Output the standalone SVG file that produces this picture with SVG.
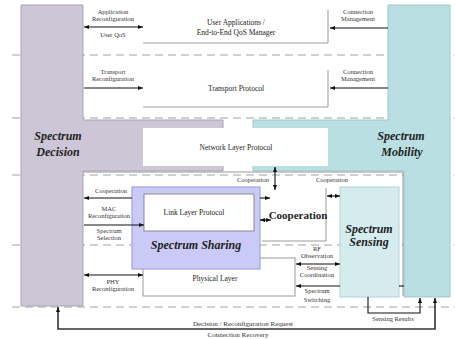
<svg xmlns="http://www.w3.org/2000/svg" width="455" height="339" viewBox="0 0 455 339">
<style>
.lbl{font-family:"Liberation Serif",serif;font-size:6.5px;fill:#333;text-anchor:middle}
.box{font-family:"Liberation Serif",serif;font-size:7.5px;fill:#222;text-anchor:middle}
.ttl{font-family:"Liberation Serif",serif;font-size:12px;font-weight:bold;font-style:italic;fill:#222;text-anchor:middle}
.coop{font-family:"Liberation Serif",serif;font-size:11px;font-weight:bold;fill:#222;text-anchor:middle}
.dash{stroke:#a0a0a0;stroke-width:1;stroke-dasharray:8 5;fill:none}
.edge{stroke:#999;stroke-width:1;fill:none}
.arr{stroke:#111;stroke-width:1.1;fill:none}
.arr2{stroke:#333;stroke-width:1.6;fill:none}
</style>
<defs>
<marker id="ah" viewBox="0 0 10 10" refX="10" refY="5" markerWidth="5" markerHeight="5" orient="auto-start-reverse" markerUnits="userSpaceOnUse">
<path d="M0 1 L10 5 L0 9 Z" fill="#111"/>
</marker>
</defs>
<rect x="0" y="0" width="455" height="339" fill="#fff"/>
<g id="layers">
<path class="dash" d="M12 55 H455 M12 118 H455 M12 175 H455 M12 245 H455 M12 307 H455"/>
</g>
<g id="spectrum-decision">
<path d="M21 5 H83 V120 H223 V171 H83 V306 H21 Z" fill="#ccc6d6" stroke="#aaa3b8" stroke-width="1"/>
<text class="ttl" x="58" y="140">Spectrum</text>
<text class="ttl" x="58" y="156">Decision</text>
</g>
<g id="spectrum-mobility">
<path d="M388 5 H450 V297 H404 V171 H253 V120 H388 Z" fill="#badfe2" stroke="#9fc7cb" stroke-width="1"/>
<text class="ttl" x="401" y="140">Spectrum</text>
<text class="ttl" x="402" y="156">Mobility</text>
</g>
<g id="lower-region">
<path class="edge" d="M83 172 H403 V296"/>
</g>
<g id="user-applications">
<rect x="143" y="10" width="185" height="33" fill="#fff"/>
<path class="edge" d="M328 10 V43 H143"/>
<text class="box" x="236" y="25">User Applications /</text>
<text class="box" x="236" y="35">End-to-End QoS Manager</text>
</g>
<g id="transport-protocol">
<rect x="143" y="70" width="185" height="37" fill="#fff"/>
<path class="edge" d="M328 70 V107 H143"/>
<text class="box" x="236" y="91">Transport Protocol</text>
</g>
<g id="network-layer">
<rect x="143" y="128" width="185" height="38" fill="#fff"/>
<text class="box" x="236" y="150">Network Layer Protocol</text>
</g>
<g id="physical-layer">
<rect x="143" y="258" width="152" height="38" fill="#fff" stroke="#999" stroke-width="1"/>
<text class="box" x="215" y="281">Physical Layer</text>
</g>
<g id="spectrum-sharing">
<rect x="132" y="187" width="128" height="82" fill="#cacaf7" stroke="#a3a3e3" stroke-width="1.2"/>
<text class="ttl" x="196" y="249">Spectrum Sharing</text>
</g>
<g id="link-layer">
<rect x="144" y="194" width="110" height="37" fill="#fff" stroke="#888" stroke-width="1"/>
<text class="box" x="194" y="215">Link Layer Protocol</text>
</g>
<g id="cooperation">
<path class="edge" d="M326 188 V241 H262"/>
<text class="coop" x="298" y="219">Cooperation</text>
</g>
<g id="spectrum-sensing">
<rect x="340" y="187" width="59" height="110" fill="#d5ecef" stroke="#b2d3d7" stroke-width="1"/>
<text class="ttl" x="369" y="233">Spectrum</text>
<text class="ttl" x="369" y="246">Sensing</text>
</g>
<g id="connectors">
<path class="arr" d="M84 27 H143" marker-start="url(#ah)" marker-end="url(#ah)"/>
<text class="lbl" x="113" y="14">Application</text>
<text class="lbl" x="113" y="21">Reconfiguration</text>
<text class="lbl" x="113" y="37">User QoS</text>
<path class="arr" d="M84 88 H143" marker-end="url(#ah)"/>
<text class="lbl" x="113" y="74">Transport</text>
<text class="lbl" x="113" y="81">Reconfiguration</text>
<path class="arr" d="M388 28 H330" marker-end="url(#ah)"/>
<text class="lbl" x="358" y="14">Connection</text>
<text class="lbl" x="358" y="21">Management</text>
<path class="arr" d="M388 88 H330" marker-end="url(#ah)"/>
<text class="lbl" x="358" y="74">Connection</text>
<text class="lbl" x="358" y="81">Management</text>
<path class="arr" d="M132 198 H84" marker-end="url(#ah)"/>
<text class="lbl" x="111" y="193">Cooperation</text>
<path class="arr" d="M84 225 H144" marker-end="url(#ah)"/>
<text class="lbl" x="109" y="211">MAC</text>
<text class="lbl" x="109" y="218">Reconfiguration</text>
<text class="lbl" x="109" y="233">Spectrum</text>
<text class="lbl" x="109" y="240">Selection</text>
<path class="arr" d="M84 275 H143" marker-start="url(#ah)" marker-end="url(#ah)"/>
<text class="lbl" x="113" y="284">PHY</text>
<text class="lbl" x="113" y="291">Reconfiguration</text>
<path class="arr" d="M275 167 V190" marker-start="url(#ah)" marker-end="url(#ah)"/>
<text class="lbl" x="253" y="182">Cooperation</text>
<path class="arr" d="M260 198 H270" marker-end="url(#ah)"/>
<path class="arr" d="M260 220 H271" marker-start="url(#ah)" marker-end="url(#ah)"/>
<path class="arr" d="M327 196 H340" marker-start="url(#ah)" marker-end="url(#ah)"/>
<text class="lbl" x="332" y="182">Cooperation</text>
<path class="arr" d="M296 264 H340" marker-start="url(#ah)" marker-end="url(#ah)"/>
<text class="lbl" x="317" y="251">RF</text>
<text class="lbl" x="317" y="258">Observation</text>
<text class="lbl" x="317" y="270">Sensing</text>
<text class="lbl" x="317" y="277">Coordination</text>
<path class="arr" d="M404 286 H399"/>
<path class="arr" d="M340 286 H296" marker-end="url(#ah)"/>
<text class="lbl" x="317" y="293">Spectrum</text>
<text class="lbl" x="317" y="302">Switching</text>
<path class="arr" d="M368 297 V313 H420 V298" marker-end="url(#ah)"/>
<text class="lbl" x="393" y="321">Sensing Results</text>
<path class="arr2" d="M435 298 V329 H58 V307" marker-start="url(#ah)" marker-end="url(#ah)"/>
<text class="lbl" x="243" y="326" style="font-size:7px">Decision / Reconfiguration Request</text>
<text class="lbl" x="238" y="337" style="font-size:7px">Connection Recovery</text>
</g>
</svg>
